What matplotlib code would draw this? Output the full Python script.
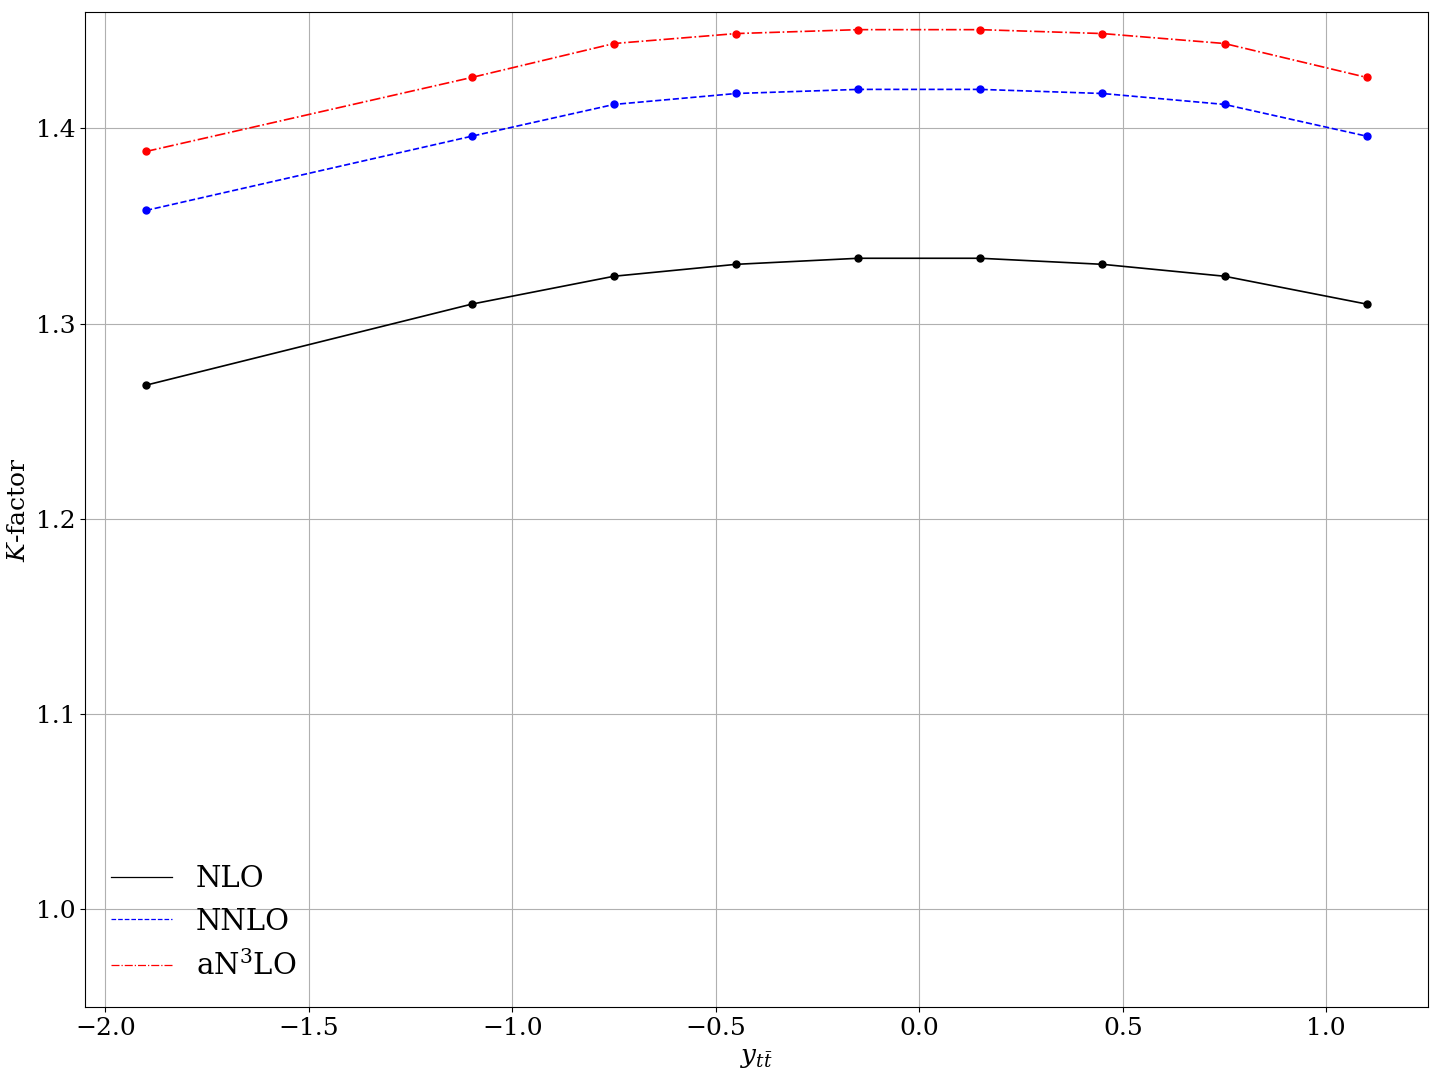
import matplotlib
matplotlib.use('Agg')
import matplotlib.pyplot as plt
from matplotlib.lines import Line2D

plt.rcParams['font.family'] = 'DejaVu Serif'
plt.rcParams['mathtext.fontset'] = 'dejavuserif'

# rapidez do par top-antitop
y_tt = [-1.9, -1.1, -0.75, -0.45, -0.15, 0.15, 0.45, 0.75, 1.1]
k_nlo = [1.2685, 1.310, 1.3243, 1.3304, 1.3335, 1.3335, 1.3304, 1.3243, 1.310]
k_nnlo = [1.358, 1.396, 1.4123, 1.4179, 1.420, 1.420, 1.4179, 1.4123, 1.396]
k_an3lo = [1.3882, 1.4261, 1.4435, 1.4486, 1.4506, 1.4506, 1.4486, 1.4435, 1.4261]

fig, ax = plt.subplots(figsize=(14.4, 10.8), dpi=100)

ax.plot(y_tt, k_nlo, '-', color='black', lw=1.2)
ax.plot(y_tt, k_nnlo, '--', color='blue', lw=1.2)
ax.plot(y_tt, k_an3lo, '-.', color='red', lw=1.2)
ax.scatter(y_tt, k_nlo, color='black', s=25, zorder=3)
ax.scatter(y_tt, k_nnlo, color='blue', s=25, zorder=3)
ax.scatter(y_tt, k_an3lo, color='red', s=25, zorder=3)

ax.set_ylim(bottom=0.95)
ax.set_xlabel(r'$y_{t\bar{t}}$', fontsize=19)
ax.set_ylabel(r'$K$-factor', fontsize=18)
ax.tick_params(labelsize=18)
ax.grid(True)

handles = [Line2D([], [], ls='-', color='black', lw=0.9),
           Line2D([], [], ls='--', color='blue', lw=0.9),
           Line2D([], [], ls='-.', color='red', lw=0.9)]
ax.legend(handles, ['NLO', 'NNLO', r'aN$^3$LO'], loc='lower left',
          fontsize=21, frameon=False, handlelength=2.1)
plt.subplots_adjust(left=0.059, right=0.9917, top=0.989, bottom=0.0676)
plt.savefig('out.png')
